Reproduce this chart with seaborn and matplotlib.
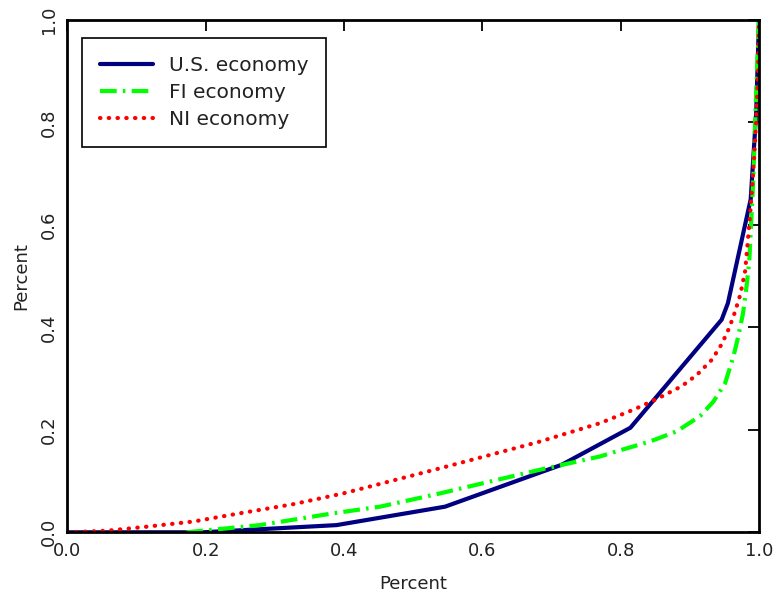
import numpy as np
import pandas as pd
import seaborn as sns
import matplotlib.pyplot as plt

# Lorenz-type curves
us_x = [0.0, 0.196, 0.389, 0.546, 0.715, 0.814, 0.946, 0.955, 0.988, 0.996, 1.0]
us_y = [0.0, 0.0, 0.014, 0.050, 0.132, 0.204, 0.415, 0.447, 0.650, 0.820, 1.0]

fi_x = [0.172, 0.278, 0.384, 0.452, 0.539, 0.683, 0.770, 0.799, 0.842, 0.881,
        0.915, 0.934, 0.951, 0.963, 0.970, 0.977, 0.982, 0.986, 0.992, 0.995, 1.0]
fi_y = [0.0, 0.014, 0.037, 0.050, 0.076, 0.122, 0.148, 0.160, 0.177, 0.197,
        0.227, 0.255, 0.291, 0.343, 0.382, 0.428, 0.480, 0.530, 0.695, 0.825, 1.0]

ni_x = [0.0, 0.057, 0.115, 0.182, 0.249, 0.327, 0.399, 0.445, 0.539, 0.683,
        0.770, 0.818, 0.852, 0.888, 0.910, 0.932, 0.946, 0.957, 0.965, 0.973,
        0.980, 0.987, 0.992, 0.996, 0.999, 1.0]
ni_y = [0.0, 0.003, 0.011, 0.021, 0.037, 0.055, 0.076, 0.092, 0.125, 0.177,
        0.213, 0.239, 0.260, 0.285, 0.307, 0.337, 0.367, 0.399, 0.429, 0.464,
        0.510, 0.617, 0.708, 0.806, 0.916, 1.0]

labels = ["U.S. economy", "FI economy", "NI economy"]
ticks = [0.0, 0.2, 0.4, 0.6, 0.8, 1.0]
tick_labels = ["0.0", "0.2", "0.4", "0.6", "0.8", "1.0"]

sns.set_style("white")
plt.rcParams["font.family"] = ["DejaVu Sans"]
plt.rcParams["text.color"] = "#222222"

fig = plt.figure(figsize=(7.74, 5.96), dpi=100)
ax = fig.add_axes([0.0872, 0.1069, 0.8934, 0.8596])

sns.lineplot(x=us_x, y=us_y, ax=ax, sort=False, estimator=None,
             color="#000080", lw=3, label=labels[0])
sns.lineplot(x=fi_x, y=fi_y, ax=ax, sort=False, estimator=None,
             color="#00ff00", lw=3, linestyle=(0, (4, 1.5, 0.6, 1.5)),
             label=labels[1])
sns.lineplot(x=ni_x, y=ni_y, ax=ax, sort=False, estimator=None,
             color="#ff0000", lw=3, linestyle=(0, (0.1, 2.0)),
             dash_capstyle="round", label=labels[2])

ax.set_xlim(0, 1)
ax.set_ylim(0, 1)
ax.set_xticks(ticks)
ax.set_xticklabels(tick_labels)
ax.set_yticks(ticks)
ax.set_yticklabels(tick_labels, rotation=90, va="center")
ax.tick_params(direction="in", top=True, right=True, length=8, width=1.3,
               pad=7, labelsize=13, labelcolor="#222222", color="black")
for s in ax.spines.values():
    s.set_linewidth(2)
    s.set_color("black")

ax.set_xlabel("Percent", fontsize=13, labelpad=11, color="#222222")
ax.set_ylabel("Percent", fontsize=13, labelpad=7, color="#222222")

leg = ax.legend(loc="upper left", bbox_to_anchor=(0.021, 0.965),
                borderaxespad=0, fontsize=14.5, handlelength=2.6,
                handletextpad=0.8, labelspacing=0.4, borderpad=0.9,
                fancybox=False, framealpha=1, edgecolor="black")
leg.get_frame().set_linewidth(1.2)

fig.savefig("out.png", dpi=100)
